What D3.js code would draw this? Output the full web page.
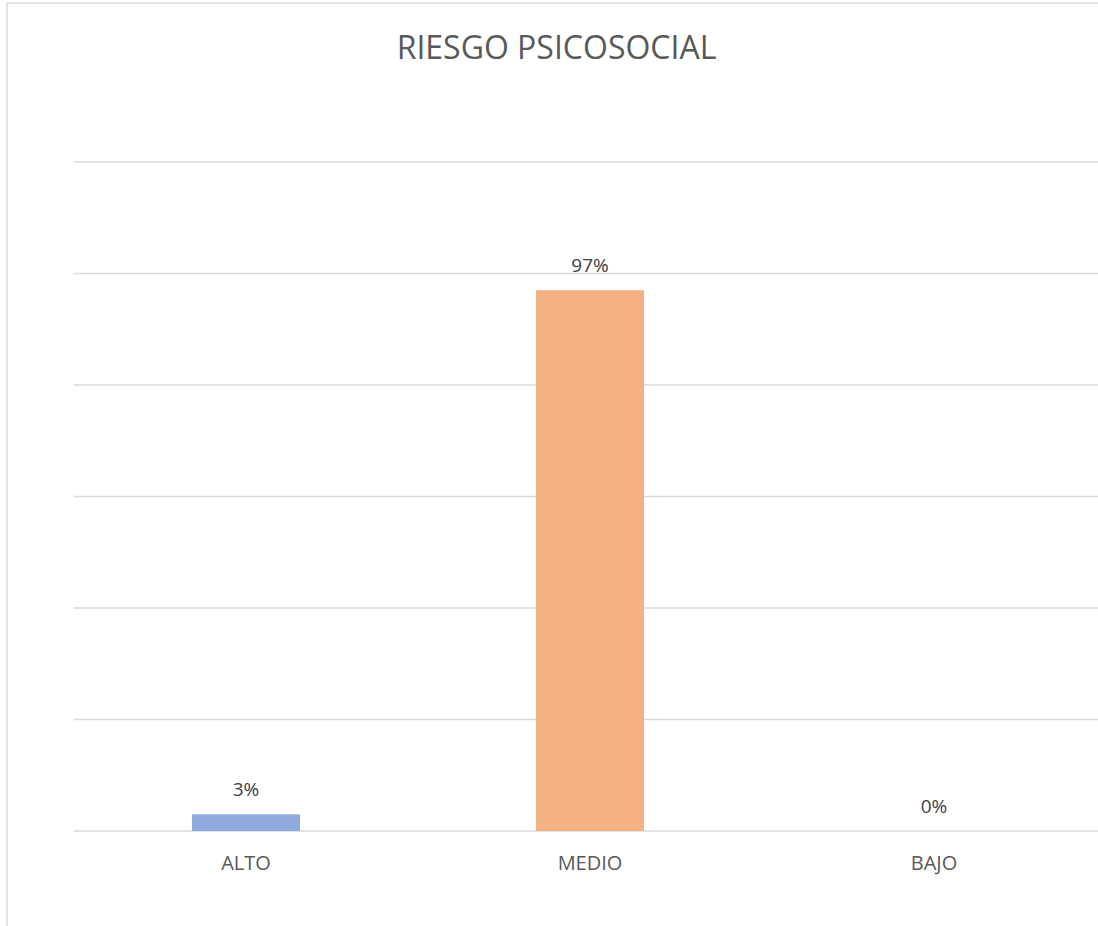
<!DOCTYPE html>
<html>
<head>
<meta charset="utf-8">
<script src="https://cdn.jsdelivr.net/npm/d3@7"></script>
<style>
  html, body { margin: 0; background: #fff; overflow: hidden; }
  svg { display: block; font-family: "Open Sans", sans-serif; }
</style>
</head>
<body>
<div id="chart"></div>
<script>
const categories = ["ALTO", "MEDIO", "BAJO"];
const values = [0.03, 0.97, 0];
const colors = ["#8faadc", "#f4b183", "#a9d18e"];
const yTicks = [0, 0.2, 0.4, 0.6, 0.8, 1.0, 1.2];
const title = "RIESGO PSICOSOCIAL";

const w = 1098;
const h = 926;
const fmt = d3.format(".0%");

const svg = d3.select("#chart").append("svg").attr("width", w).attr("height", h);

// chart area border (right and bottom edges fall outside the picture)
svg.append("rect")
  .attr("x", 7).attr("y", 3)
  .attr("width", 1300).attr("height", 1200)
  .attr("fill", "#fff")
  .attr("stroke", "#d9d9d9")
  .attr("stroke-width", 1.5);

const x = d3.scaleBand().domain(categories).range([74, 1106]).paddingInner(0.686).paddingOuter(0.343);
const y = d3.scaleLinear().domain([0, 1.2]).range([831, 162]);

// gridlines
svg.append("g")
  .selectAll("line")
  .data(yTicks)
  .join("line")
  .attr("x1", 74).attr("x2", 1106)
  .attr("y1", (d) => y(d)).attr("y2", (d) => y(d))
  .attr("stroke", "#d9d9d9")
  .attr("stroke-width", 1.5);

// bars
svg.append("g")
  .selectAll("rect")
  .data(values)
  .join("rect")
  .attr("x", (d, i) => x(categories[i]))
  .attr("y", (d) => y(d))
  .attr("width", x.bandwidth())
  .attr("height", (d) => y(0) - y(d))
  .attr("fill", (d, i) => colors[i]);

// data labels
svg.append("g")
  .selectAll("text")
  .data(values)
  .join("text")
  .attr("x", (d, i) => x(categories[i]) + x.bandwidth() / 2)
  .attr("y", (d) => y(d) - 18)
  .attr("text-anchor", "middle")
  .attr("font-size", 19)
  .attr("fill", "#404040")
  .text((d) => fmt(d));

// category axis
const xAxis = svg.append("g")
  .attr("transform", `translate(0, ${y(0)})`)
  .call(d3.axisBottom(x).tickSize(0).tickPadding(0));
xAxis.select(".domain").remove();
xAxis.selectAll("text")
  .attr("dy", 0)
  .attr("y", 39)
  .attr("font-size", 20)
  .attr("font-family", "Open Sans, sans-serif")
  .attr("fill", "#595959");

// title
svg.append("text")
  .attr("x", 556.5)
  .attr("y", 59)
  .attr("text-anchor", "middle")
  .attr("font-size", 32)
  .attr("fill", "#595959")
  .text(title);
</script>
</body>
</html>
